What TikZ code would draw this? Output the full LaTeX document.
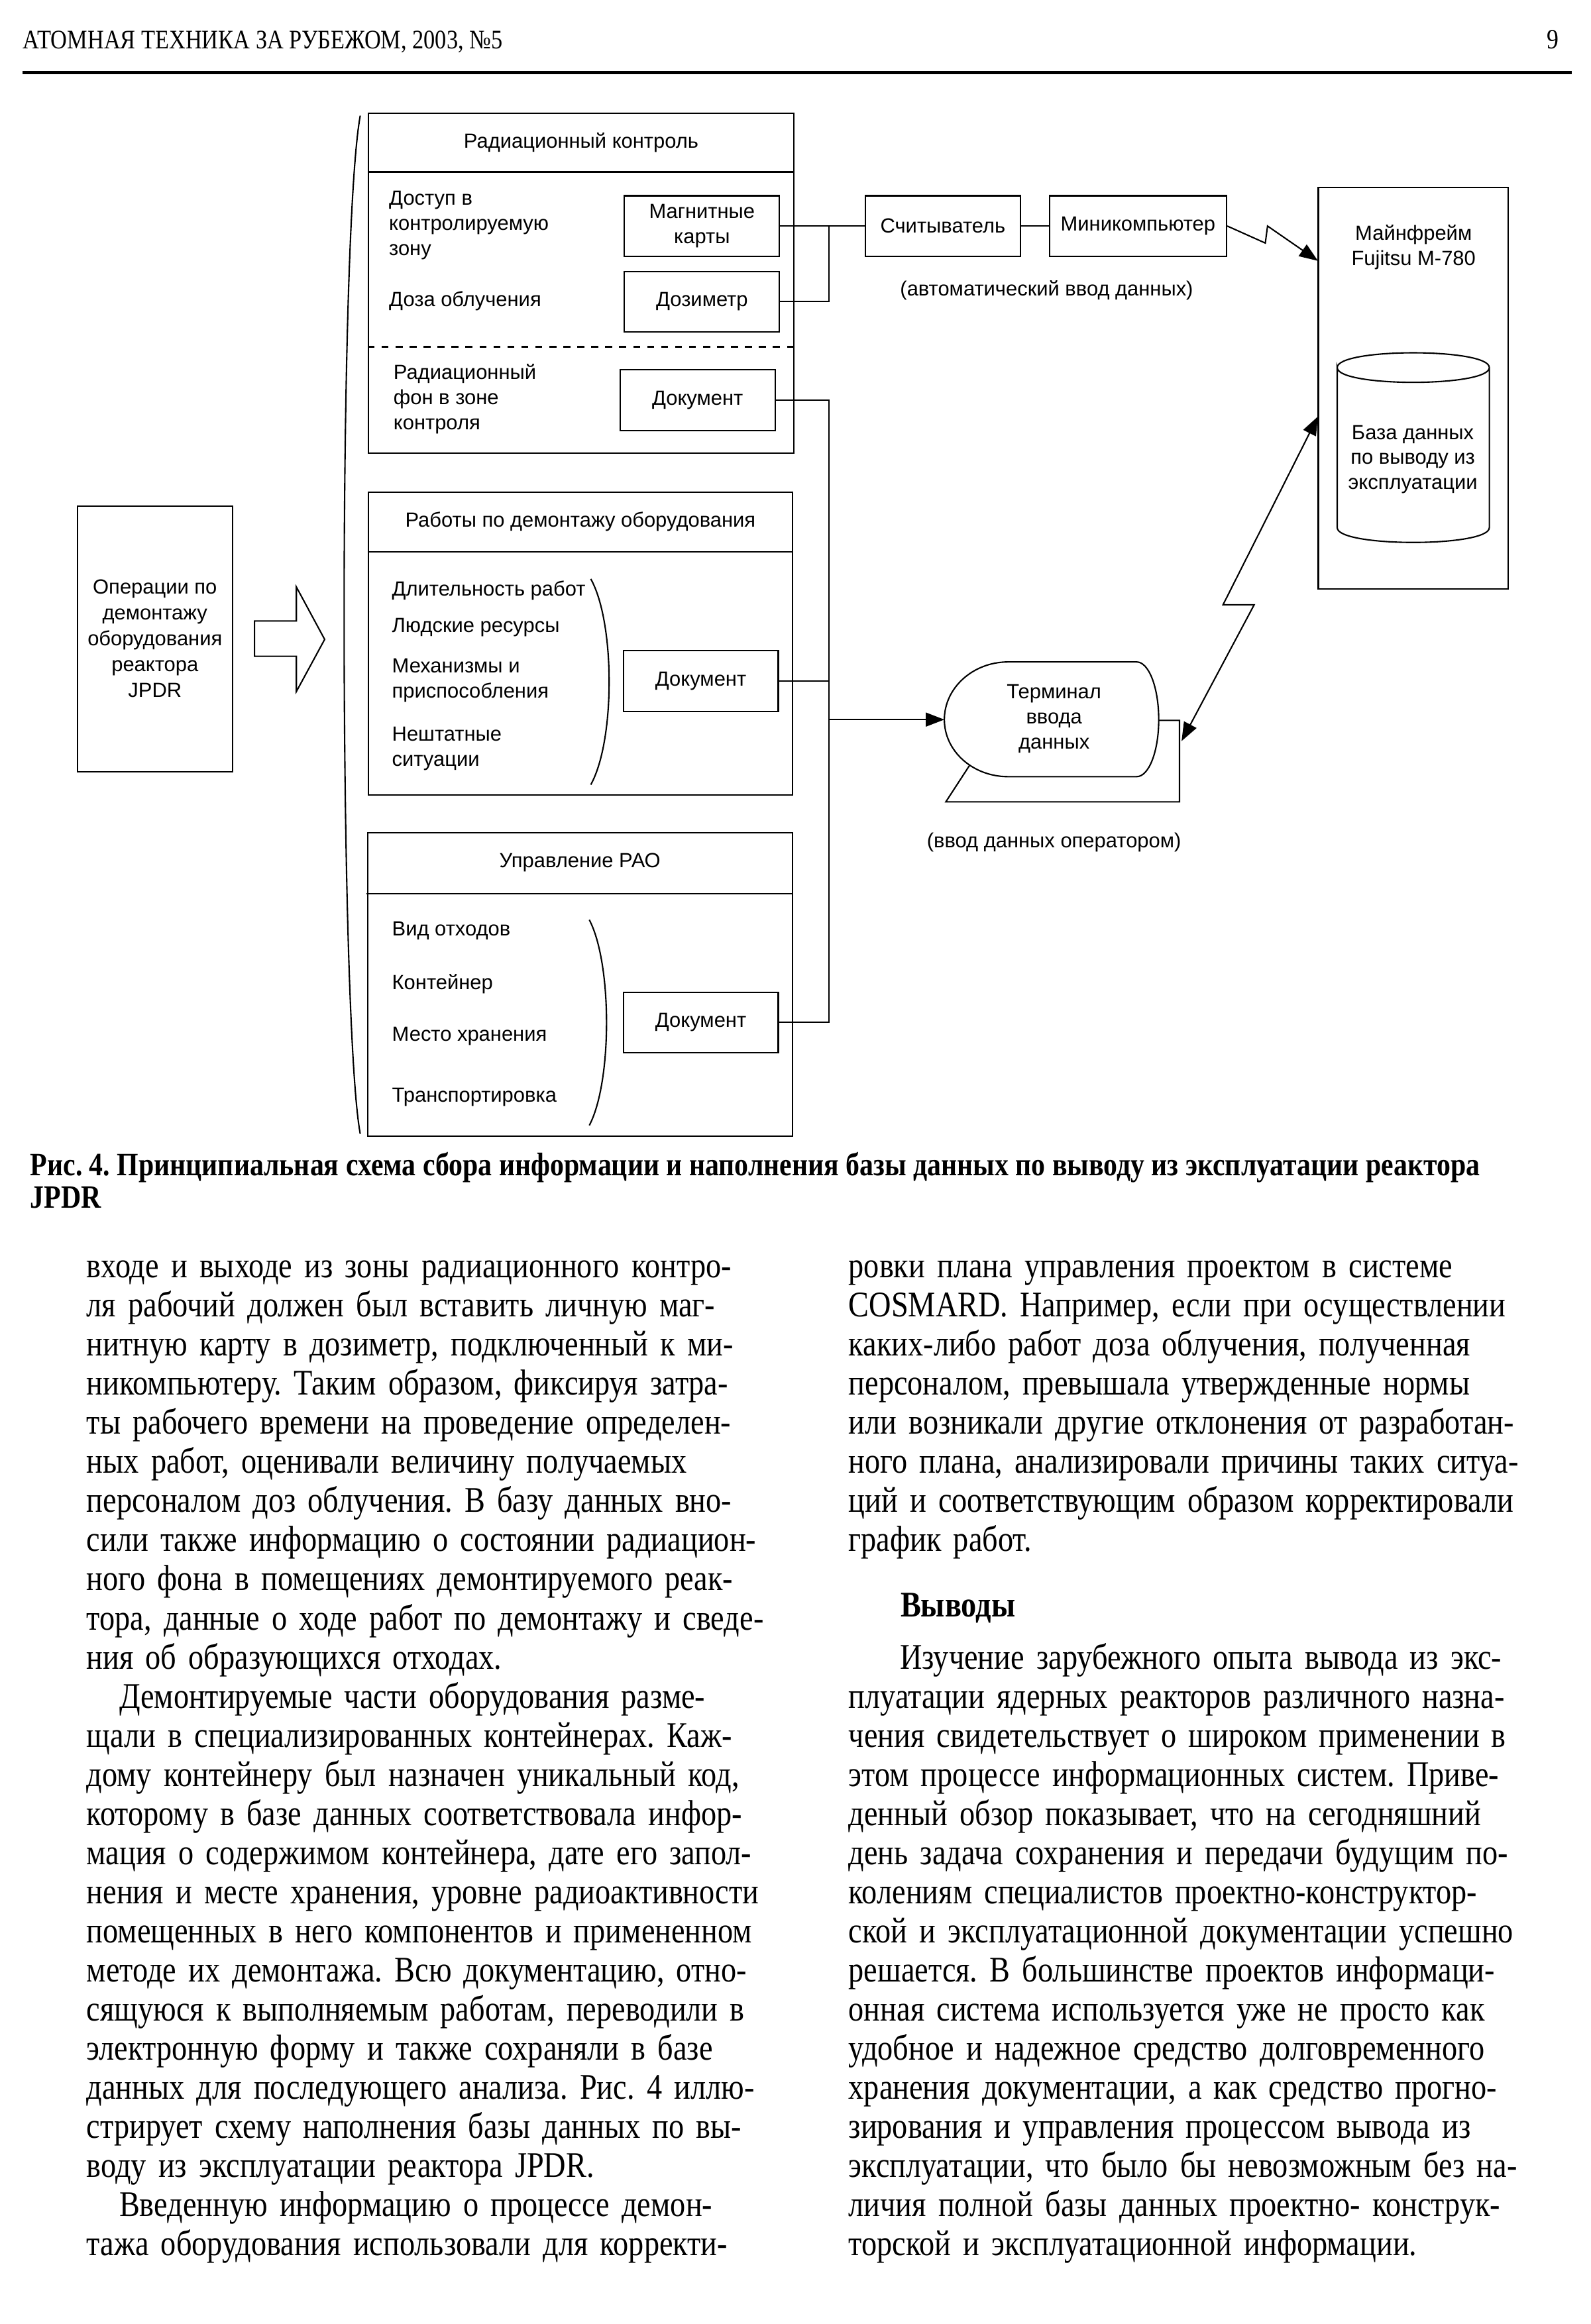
\documentclass[tikz,border=0pt]{standalone}
\usepackage{fontspec}
\setmainfont{Liberation Serif}
\newfontfamily\diagfont{Liberation Sans}
\newfontfamily\condfont[FakeStretch=0.85]{Liberation Serif}
\usetikzlibrary{arrows.meta}
\frenchspacing

% one pixel of the page grid (1073 x 1568)
\def\unitpx{0.6339pt}
% one justified line of a text column
\newcommand{\jline}[1]{\makebox[\hsize][s]{#1}}

\tikzset{
  blockframe/.style={draw, inner sep=0pt},
  infobox/.style={draw, inner sep=0pt, minimum width=105*\unitpx, minimum height=41*\unitpx,
    align=center, font=\diagfont\fontsize{8.8}{10.8}\selectfont},
  diagtext/.style={inner sep=0pt, align=center, font=\diagfont\fontsize{8.8}{10.8}\selectfont},
  itemtext/.style={inner sep=0pt, anchor=west, align=left, font=\diagfont\fontsize{8.8}{10.8}\selectfont},
  bodytext/.style={inner sep=0pt, anchor=base west, align=left, font=\condfont\fontsize{15.5}{16.8}\selectfont}
}

\begin{document}
\begin{tikzpicture}[x=0.022367cm, y=-0.022367cm, line width=0.6pt, >={Triangle[length=8pt, width=6pt]}]
  \useasboundingbox (0,0) rectangle (1073,1568);

  % Running head
  \node[anchor=base west, inner sep=0pt, font=\condfont\fontsize{11.5}{13}\selectfont] (head) at (15,33) {АТОМНАЯ ТЕХНИКА ЗА РУБЕЖОМ, 2003, №5};
  \node[anchor=base east, inner sep=0pt, font=\condfont\fontsize{12}{13}\selectfont] (pageno) at (1052,33) {9};
  \draw[line width=1.3pt] (15,49) -- (1060,49);

  % Big bracket round the three blocks
  \draw (243,78) .. controls (228,160) and (229,690) .. (243,765);

  % Block 1: radiation control
  \node[blockframe, minimum width=288*\unitpx, minimum height=230*\unitpx] (rad) at (392,191) {};
  \node[diagtext] (radT) at (392,96) {Радиационный контроль};
  \draw (248,116) -- (536,116);
  \draw[dashed] (248,234) -- (536,234);
  \node[itemtext] (access) at (262,152) {Доступ в\\контролируемую\\зону};
  \node[itemtext] (dose) at (262,203) {Доза облучения};
  \node[itemtext] (bgr) at (265,269) {Радиационный\\фон в зоне\\контроля};
  \node[infobox] (cards) at (473.5,152.5) {Магнитные\\карты};
  \node[infobox] (dosim) at (473.5,203.5) {Дозиметр};
  \node[infobox] (doc1) at (470.5,270) {Документ};

  % Block 2: dismantling works
  \node[blockframe, minimum width=287*\unitpx, minimum height=205*\unitpx] (works) at (391.5,434.2) {};
  \node[diagtext] (worksT) at (391.5,352) {Работы по демонтажу оборудования};
  \draw (248,372.5) -- (535,372.5);
  \node[itemtext] (dur) at (264,398.4) {Длительность работ};
  \node[itemtext] (staff) at (264,423.4) {Людские ресурсы};
  \node[itemtext] (tools) at (264,459) {Механизмы и\\приспособления};
  \node[itemtext] (emerg) at (264,505) {Нештатные\\ситуации};
  \draw (398.5,390.6) .. controls (415,420) and (415,500) .. (398.5,529.4);
  \node[infobox] (doc2) at (472.7,459.5) {Документ};

  % Block 3: radioactive waste management
  \node[blockframe, minimum width=287.7*\unitpx, minimum height=205.3*\unitpx] (rao) at (391.2,664.2) {};
  \node[diagtext] (raoT) at (391.2,582) {Управление РАО};
  \draw (247.3,602.8) -- (535,602.8);
  \node[itemtext] (kind) at (264,628) {Вид отходов};
  \node[itemtext] (cont) at (264,664) {Контейнер};
  \node[itemtext] (store) at (264,699) {Место хранения};
  \node[itemtext] (trans) at (264,740) {Транспортировка};
  \draw (397.5,620.6) .. controls (413,650) and (413,730) .. (397.5,759.3);
  \node[infobox] (doc3) at (472.7,689.8) {Документ};

  % Source: dismantling operations and hollow arrow
  \node[blockframe, minimum width=105*\unitpx, minimum height=180*\unitpx, align=center,
    font=\diagfont\fontsize{8.8}{11.1}\selectfont] (ops) at (104.5,431)
    {Операции по\\демонтажу\\оборудования\\реактора\\JPDR};
  \draw (171.7,419) -- (199.9,419) -- (199.9,396) -- (219,431.4) -- (199.9,466.6)
    -- (199.9,442.8) -- (171.7,442.8) -- cycle;

  % Automatic input chain
  \node[infobox] (reader) at (636,152.5) {Считыватель};
  \node[infobox, minimum width=120*\unitpx] (mini) at (767.6,152.5) {Миникомпьютер};
  \node[diagtext] (auto) at (706,196) {(автоматический ввод данных)};

  % Mainframe with the database
  \node[blockframe, minimum width=128.6*\unitpx, minimum height=272*\unitpx] (mf) at (953.3,262) {};
  \node[diagtext] (mfT) at (953.5,167) {Майнфрейм\\Fujitsu M-780};
  \draw (902,248) .. controls (902,234.7) and (1004.6,234.7) .. (1004.6,248)
    .. controls (1004.6,261.3) and (902,261.3) .. (902,248) -- (902,356)
    .. controls (902,369.3) and (1004.6,369.3) .. (1004.6,356) -- (1004.6,248);
  \node[diagtext] (db) at (953,310) {База данных\\по выводу из\\эксплуатации};

  % Data entry terminal
  \draw (680,446.6) -- (766.7,446.6) .. controls (775,446.6) and (781.6,464.1) .. (781.6,485.5)
    .. controls (781.6,506.9) and (775,524) .. (766.7,524) -- (680,524)
    .. controls (656.3,524) and (637,506.9) .. (637,485.5)
    .. controls (637,464.1) and (656.3,446.6) .. (680,446.6) -- cycle;
  \draw (654,516.4) -- (638,541) -- (795.6,541) -- (795.6,486) -- (781.6,486);
  \node[diagtext] (term) at (711,485) {Терминал\\ввода\\данных};
  \node[diagtext] (manual) at (711,568.5) {(ввод данных оператором)};

  % Connectors
  \coordinate (jr) at (559,152.5);
  \draw (cards.east) -- (reader.west);
  \draw (dosim.east) -| (jr);
  \draw (reader) -- (mini);
  \coordinate (mfA) at (889,176);
  \draw[->] (mini.east) -- (853.5,164) -- (855,152.5) -- (mfA);
  \coordinate (jd) at (559,270);
  \draw (doc1.east) -- (jd) |- (doc3.east);
  \draw (doc2.east) -- (doc2.east -| jd);
  \coordinate (termW) at (637,485.5);
  \draw[->] (jd |- termW) -- (termW);
  \coordinate (mfB) at (889,281);
  \coordinate (termE) at (797,500);
  \draw[<->] (mfB) -- (825,408) -- (846,408) -- (termE);

  % Caption
  \node[anchor=base west, inner sep=0pt, font=\condfont\bfseries\fontsize{14}{16}\selectfont] (cap1) at (20,793)
    {Рис. 4. Принципиальная схема сбора информации и наполнения базы данных по выводу из эксплуатации реактора};
  \node[anchor=base west, inner sep=0pt, font=\condfont\bfseries\fontsize{14}{16}\selectfont] (cap2) at (20,815) {JPDR};

  % Left column
  \node[bodytext, text width=462*\unitpx] (colL) at (58,862) {%
    \jline{входе и выходе из зоны радиационного контро-}\\
    \jline{ля рабочий должен был вставить личную маг-}\\
    \jline{нитную карту в дозиметр, подключенный к ми-}\\
    \jline{никомпьютеру. Таким образом, фиксируя затра-}\\
    \jline{ты рабочего времени на проведение определен-}\\
    \jline{ных работ, оценивали величину получаемых}\\
    \jline{персоналом доз облучения. В базу данных вно-}\\
    \jline{сили также информацию о состоянии радиацион-}\\
    \jline{ного фона в помещениях демонтируемого реак-}\\
    \jline{тора, данные о ходе работ по демонтажу и сведе-}\\
    ния об образующихся отходах.\\
    \jline{\hspace*{14pt}Демонтируемые части оборудования разме-}\\
    \jline{щали в специализированных контейнерах. Каж-}\\
    \jline{дому контейнеру был назначен уникальный код,}\\
    \jline{которому в базе данных соответствовала инфор-}\\
    \jline{мация о содержимом контейнера, дате его запол-}\\
    \jline{нения и месте хранения, уровне радиоактивности}\\
    \jline{помещенных в него компонентов и примененном}\\
    \jline{методе их демонтажа. Всю документацию, отно-}\\
    \jline{сящуюся к выполняемым работам, переводили в}\\
    \jline{электронную форму и также сохраняли в базе}\\
    \jline{данных для последующего анализа. Рис. 4 иллю-}\\
    \jline{стрирует схему наполнения базы данных по вы-}\\
    воду из эксплуатации реактора JPDR.\\
    \jline{\hspace*{14pt}Введенную информацию о процессе демон-}\\
    \jline{тажа оборудования использовали для корректи-}};

  % Right column
  \node[bodytext, text width=480*\unitpx] (colR) at (572,862) {%
    \jline{ровки плана управления проектом в системе}\\
    \jline{COSMARD. Например, если при осуществлении}\\
    \jline{каких-либо работ доза облучения, полученная}\\
    \jline{персоналом, превышала утвержденные нормы}\\
    \jline{или возникали другие отклонения от разработан-}\\
    \jline{ного плана, анализировали причины таких ситуа-}\\
    \jline{ций и соответствующим образом корректировали}\\
    график работ.};
  \node[anchor=base west, inner sep=0pt, font=\condfont\bfseries\fontsize{15.5}{16.8}\selectfont] (concl) at (607,1091) {Выводы};
  \node[bodytext, text width=480*\unitpx] (colR2) at (572,1126) {%
    \jline{\hspace*{22pt}Изучение зарубежного опыта вывода из экс-}\\
    \jline{плуатации ядерных реакторов различного назна-}\\
    \jline{чения свидетельствует о широком применении в}\\
    \jline{этом процессе информационных систем. Приве-}\\
    \jline{денный обзор показывает, что на сегодняшний}\\
    \jline{день задача сохранения и передачи будущим по-}\\
    \jline{колениям специалистов проектно-конструктор-}\\
    \jline{ской и эксплуатационной документации успешно}\\
    \jline{решается. В большинстве проектов информаци-}\\
    \jline{онная система используется уже не просто как}\\
    \jline{удобное и надежное средство долговременного}\\
    \jline{хранения документации, а как средство прогно-}\\
    \jline{зирования и управления процессом вывода из}\\
    \jline{эксплуатации, что было бы невозможным без на-}\\
    \jline{личия полной базы данных проектно- конструк-}\\
    торской и эксплуатационной информации.};
\end{tikzpicture}
\end{document}
